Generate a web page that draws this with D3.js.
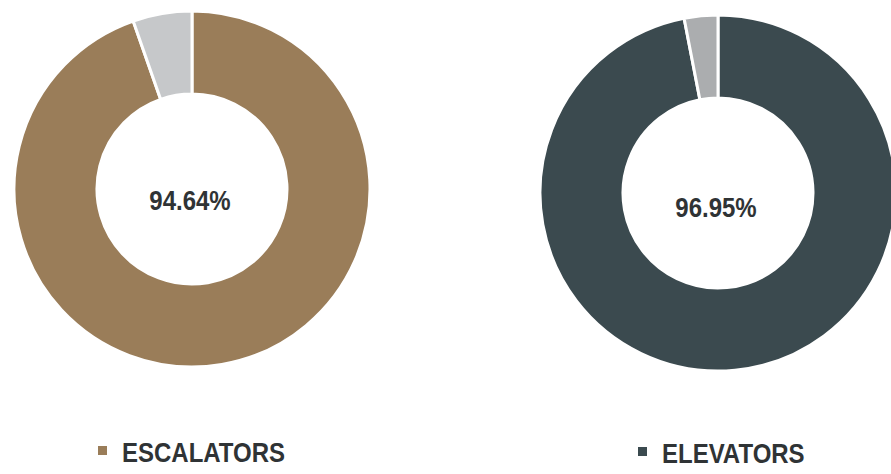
<!DOCTYPE html>
<html>
<head>
<meta charset="utf-8">
<script src="https://cdn.jsdelivr.net/npm/d3@7"></script>
<style>
  body { margin: 0; background: #fff; }
  text { font-family: "Liberation Sans", Arial, sans-serif; font-weight: bold; }
</style>
</head>
<body>
<div id="chart"></div>
<script>
// data
const categories = ['ESCALATORS', 'ELEVATORS'];
const percentUp = [94.64, 96.95];

// look
const mainColors = ['#9a7d59', '#3b4a4f'];
const restColors = ['#c6c8ca', '#abadaf'];
const centers = [{x: 192, y: 189}, {x: 718, y: 193}];
const legendPos = [{x: 98, y: 462}, {x: 638, y: 463}];

const width = 891, height = 474;
const outerR = 178, innerR = 95;

const svg = d3.select('#chart').append('svg')
    .attr('width', width)
    .attr('height', height);

const pie = d3.pie().sort(null).value(d => d);
const arc = d3.arc().innerRadius(innerR).outerRadius(outerR);

categories.forEach((cat, i) => {
    const g = svg.append('g')
        .attr('transform', `translate(${centers[i].x},${centers[i].y})`);

    // main share first, the rest in grey up to 12 o'clock
    const slices = pie([percentUp[i], 100 - percentUp[i]]);
    g.selectAll('path').data(slices)
        .join('path')
        .attr('d', arc)
        .attr('fill', (d, j) => j === 0 ? mainColors[i] : restColors[i])
        .attr('stroke', '#fff')
        .attr('stroke-width', 3);

    // center label
    g.append('text')
        .attr('text-anchor', 'middle')
        .attr('transform', 'translate(-2,' + (i === 0 ? 21 : 24) + ') scale(1,1.17)')
        .attr('font-size', 24)
        .attr('fill', '#2f3335')
        .text(d3.format('.2f')(percentUp[i]) + '%');

    // legend
    const lg = svg.append('g')
        .attr('transform', `translate(${legendPos[i].x},${legendPos[i].y})`);
    lg.append('rect')
        .attr('x', 0).attr('y', -16)
        .attr('width', 9).attr('height', 9)
        .attr('fill', mainColors[i]);
    lg.append('text')
        .attr('x', 24)
        .attr('transform', 'scale(1,1.17)')
        .attr('font-size', 24)
        .attr('fill', '#2f3335')
        .text(cat);
});
</script>
</body>
</html>
